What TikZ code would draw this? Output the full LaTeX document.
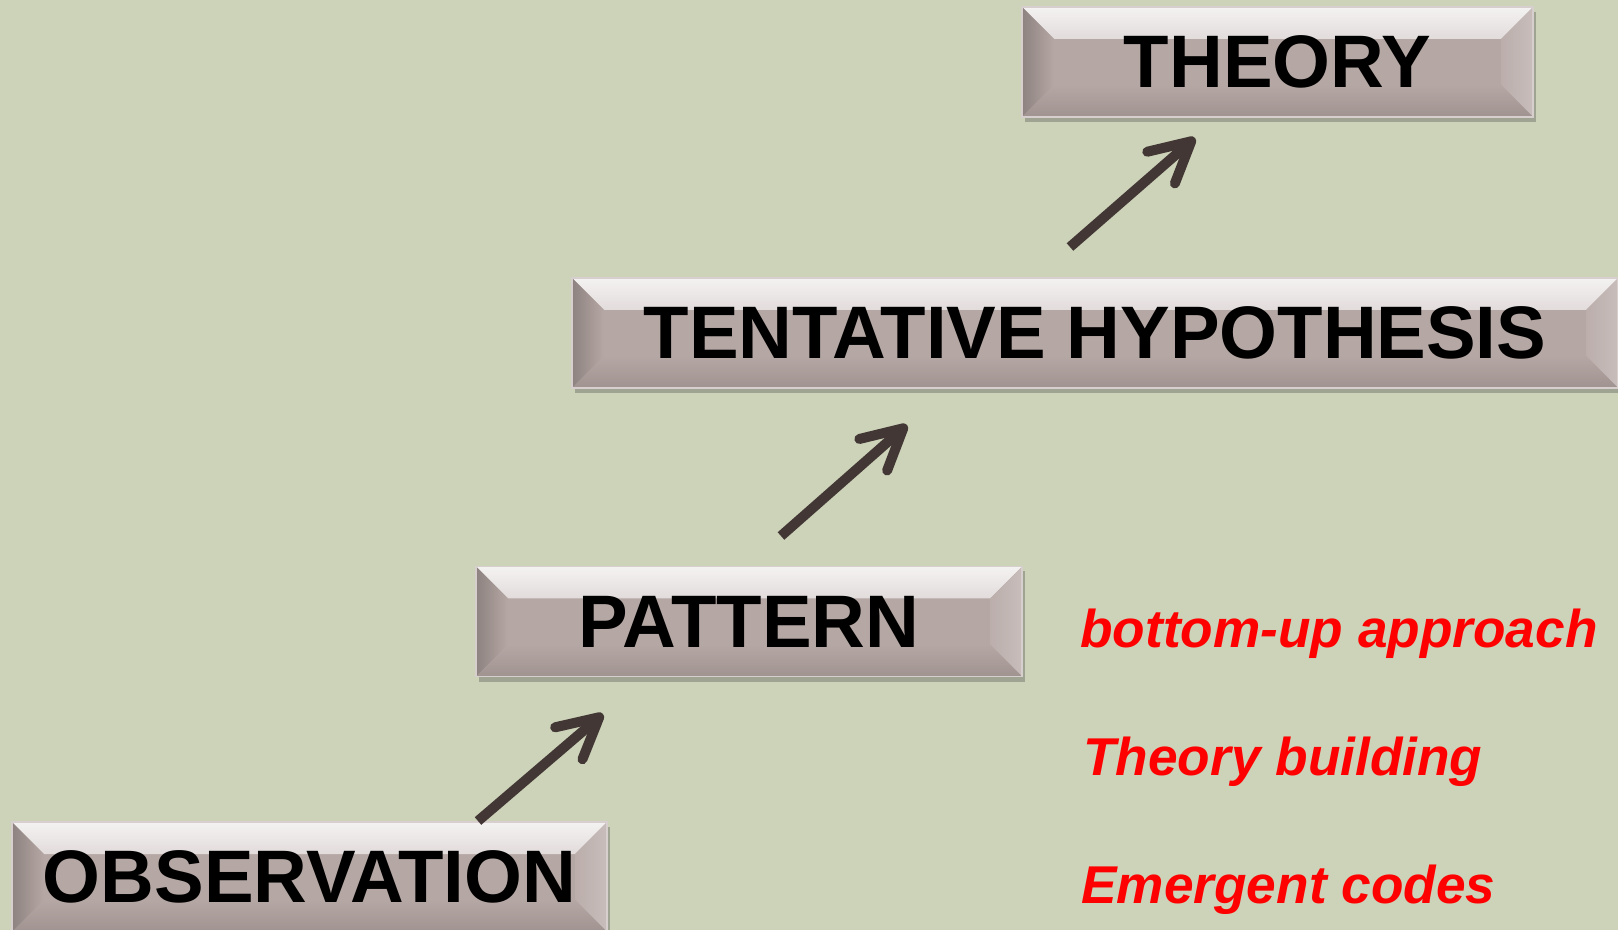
\documentclass[tikz,border=0pt]{standalone}
\usepackage{fontspec}
\setmainfont{Liberation Sans}
\definecolor{sage}{RGB}{204,211,185}
\definecolor{boxrose}{RGB}{181,167,164}
\definecolor{arrowbrown}{RGB}{67,55,53}
\definecolor{codered}{RGB}{255,0,0}
\usetikzlibrary{arrows.meta, shadows}
\def\bv{16pt}
\def\ppb{path picture bounding box}

\begin{document}
\begin{tikzpicture}[x=0.5pt,y=-0.5pt,
      stepbox/.style={fill=boxrose,draw=boxrose!55!white,line width=0.6pt,
                  minimum height=55pt,inner sep=0pt,
                  font=\fontsize{37.2pt}{40pt}\bfseries\selectfont,
                  drop shadow={shadow xshift=1.5pt,shadow yshift=-2.5pt,opacity=0.35,fill=black!70},
                  path picture={
                    \shade[top color=white!85!boxrose,bottom color=boxrose]
                      (\ppb.north west) -- (\ppb.north east) -- ([shift={(-\bv,-\bv)}]\ppb.north east) -- ([shift={(\bv,-\bv)}]\ppb.north west) -- cycle;
                    \shade[left color=boxrose!78!black,right color=boxrose]
                      (\ppb.north west) -- ([shift={(\bv,-\bv)}]\ppb.north west) -- ([shift={(\bv,\bv)}]\ppb.south west) -- (\ppb.south west) -- cycle;
                    \shade[left color=boxrose!92!white,right color=boxrose!75!white]
                      (\ppb.north east) -- (\ppb.south east) -- ([shift={(-\bv,\bv)}]\ppb.south east) -- ([shift={(-\bv,-\bv)}]\ppb.north east) -- cycle;
                    \shade[top color=boxrose,bottom color=boxrose!88!black]
                      (\ppb.south west) -- ([shift={(\bv,\bv)}]\ppb.south west) -- ([shift={(-\bv,\bv)}]\ppb.south east) -- (\ppb.south east) -- cycle;
                  }},
      note/.style={text=codered,inner sep=0pt,anchor=base west,
                  font=\fontsize{26.6pt}{30pt}\bfseries\itshape\selectfont},
      climb/.style={arrowbrown,line width=5pt,-{Straight Barb[length=20pt,width=21pt,round]}}]
    \useasboundingbox (0,0) rectangle (1618,930);
    \fill[sage] (0,0) rectangle (1618,930);
    \node[stepbox,minimum width=255.5pt] (theory) at (1277.5,62) {THEORY};
    \node[stepbox,minimum width=523pt] (hypo) at (1095,333) {TENTATIVE HYPOTHESIS};
    \node[stepbox,minimum width=273pt] (pattern) at (749,621.5) {PATTERN};
    \node[stepbox,minimum width=297.5pt] (obs) at (309.5,877) {OBSERVATION};
    \coordinate (t1) at (478,821);
    \coordinate (h1) at (603,714);
    \coordinate (t2) at (781,536);
    \coordinate (h2) at (907,425);
    \coordinate (t3) at (1070,247);
    \coordinate (h3) at (1195,138);
    \draw[climb] (t1) -- (h1);
    \draw[climb] (t2) -- (h2);
    \draw[climb] (t3) -- (h3);
    \node[note] (bottomup) at (1080,647) {bottom-up approach};
    \node[note] (building) at (1083,775) {Theory building};
    \node[note] (codes) at (1081,903) {Emergent codes};
  \end{tikzpicture}
\end{document}
